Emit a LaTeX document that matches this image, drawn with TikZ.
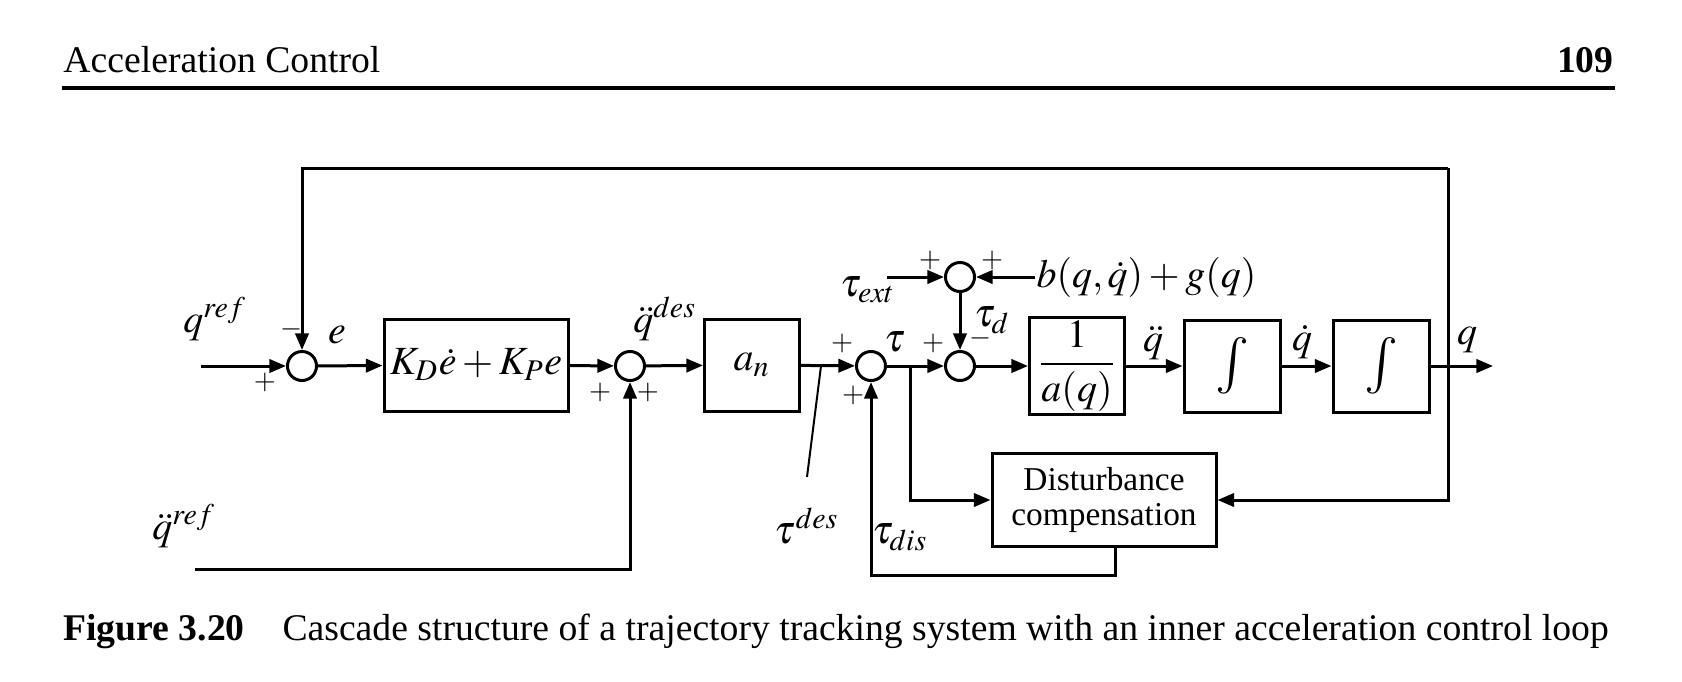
\documentclass[tikz,border=0pt]{standalone}
\usepackage{mathptmx}
\usepackage[no-math]{fontspec}
\setmainfont{Liberation Serif}
\usetikzlibrary{arrows.meta,positioning}

\begin{document}
\begin{tikzpicture}[
    x=0.3pt, y=-0.3pt,
    >={Triangle[length=5pt,width=4pt]},
    line width=0.9pt,
    font=\fontsize{12}{14}\selectfont,
    blk/.style = {draw,minimum height=27.6pt,inner sep=1pt},
    intg/.style = {blk,minimum width=28.8pt,font=\fontsize{17}{17}\selectfont},
    sumc/.style = {draw,circle,minimum size=8.7pt,inner sep=0pt},
    sgn/.style = {font=\fontsize{8.5}{8.5}\selectfont,inner sep=0pt},
    lbl/.style = {inner sep=0pt}
    ]
  \useasboundingbox (0,0) rectangle (1682,681);
  % Header and caption
  \node[lbl,anchor=base west,font=\fontsize{11.3}{13}\selectfont] (head) at (62,72) {Acceleration Control};
  \node[lbl,anchor=base east,font=\fontsize{11.3}{13}\selectfont\bfseries] (page) at (1615,72) {109};
  \draw[line width=1.1pt] (62,88) -- (1615,88);
  \node[lbl,anchor=base west,font=\fontsize{11.3}{13}\selectfont\bfseries] (capnum) at (62,640) {Figure 3.20};
  \node[lbl,anchor=base west,font=\fontsize{11.3}{13}\selectfont] (captxt) at (281,640)
    {Cascade structure of a trajectory tracking system with an inner acceleration control loop};
  % Blocks
  \node[blk,minimum width=55.2pt] (kd) at (476,365) {$K_D\dot{e}+K_Pe$};
  \node[blk,minimum width=28.5pt] (an) at (752,365) {$a_n$};
  \node[blk,minimum width=28.5pt] (ainv) at (1077,366) {$\displaystyle\frac{1}{a(q)}$};
  \node[intg] (int1) at (1232,366) {$\int$};
  \node[intg] (int2) at (1381,366) {$\int$};
  \node[blk,minimum width=67.2pt,minimum height=27.9pt,align=center,
    font=\fontsize{10}{10.5}\selectfont] (dc) at (1104,500) {Disturbance\\compensation};
  % Summing points
  \node[sumc] (s1) at (302,366) {};
  \node[sumc] (s2) at (630,366) {};
  \node[sumc] (s3) at (871,366) {};
  \node[sumc] (s4) at (960,366) {};
  \node[sumc] (s5) at (960,277) {};
  % Signs
  \node[sgn] (s1p) at (265,382) {$+$};
  \node[sgn] (s1m) at (292,329) {$-$};
  \node[sgn] (s2p) at (600,392) {$+$};
  \node[sgn] (s2q) at (648,392) {$+$};
  \node[sgn] (s3p) at (842,343) {$+$};
  \node[sgn] (s3q) at (853,395) {$+$};
  \node[sgn] (s4p) at (933,343) {$+$};
  \node[sgn] (s4m) at (980,338) {$-$};
  \node[sgn] (s5p) at (930,260) {$+$};
  \node[sgn] (s5q) at (992,260) {$+$};
  % Labels
  \node[lbl] (qref) at (215,319) {$q^{ref}$};
  \node[lbl] (ddqref) at (184,526) {$\ddot{q}^{ref}$};
  \node[lbl] (elbl) at (337,335) {$e$};
  \node[lbl] (ddqdes) at (665,319) {$\ddot{q}^{des}$};
  \node[lbl] (taudes) at (807,526) {$\tau^{des}$};
  \node[lbl] (taulbl) at (895,342) {$\tau$};
  \node[lbl] (tauext) at (868,290) {$\tau_{ext}$};
  \node[lbl,anchor=west] (bg) at (1035,277) {$b(q,\dot{q})+g(q)$};
  \node[lbl] (taud) at (992,320) {$\tau_d$};
  \node[lbl] (ddq) at (1153,343) {$\ddot{q}$};
  \node[lbl] (dq) at (1302,342) {$\dot{q}$};
  \node[lbl] (qlbl) at (1467,340) {$q$};
  \node[lbl] (taudis) at (900,537) {$\tau_{dis}$};
  % Coordinates
  \coordinate (qin) at (201,366);
  \coordinate (ddqin) at (195,569);
  \coordinate (tdtap) at (821,366);
  \coordinate (tdend) at (807,477);
  \coordinate (ttap) at (910,366);
  \coordinate (textin) at (887,277);
  \coordinate (qtap) at (1448,366);
  \coordinate (fbtop) at (1448,168);
  \coordinate (qout) at (1493,366);
  \coordinate (dcout) at ([xshift=3.3pt]dc.south);
  % Forward path
  \draw[->] (qin) -- (s1);
  \draw[->] (s1) -- (kd);
  \draw[->] (kd) -- (s2);
  \draw[->] (ddqin) -| (s2);
  \draw[->] (s2) -- (an);
  \draw[->] (an) -- (s3);
  \draw[->] (s3) -- (s4);
  \draw[->] (s4) -- (ainv);
  \draw[->] (ainv) -- (int1);
  \draw[->] (int1) -- (int2);
  \draw[->] (int2) -- (qout);
  \draw[line width=0.6pt] (tdtap) -- (tdend);
  % Disturbances
  \draw[->] (textin) -- (s5);
  \draw[->] (bg) -- (s5);
  \draw[->] (s5) -- (s4);
  % Feedback
  \draw (qtap) -- (fbtop);
  \draw[->] (fbtop) -| (s1);
  \draw[->] (qtap) |- (dc);
  \draw[->] (ttap) |- (dc);
  \draw[->] (dcout) -- ++(0,27) -| (s3);
\end{tikzpicture}
\end{document}
